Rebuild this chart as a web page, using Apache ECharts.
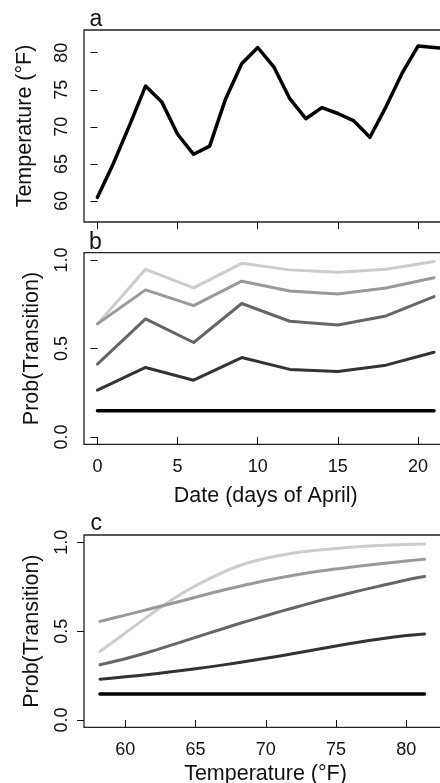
<!DOCTYPE html>
<html>
<head>
<meta charset="utf-8">
<script src="https://cdn.jsdelivr.net/npm/echarts@6/dist/echarts.min.js"></script>
<style>
  html, body { margin: 0; padding: 0; background: #fff; overflow: hidden; }
  #chart { width: 440px; height: 783px; }
</style>
</head>
<body>
<div id="chart"></div>
<script>
// 面板 a：每日气温
const tempDays = [0, 1, 2, 3, 4, 5, 6, 7, 8, 9, 10, 11, 12, 13, 14, 15, 16, 17, 18, 19, 20, 21, 22];
const tempF = [60.5, 65.1, 70.2, 75.5, 73.4, 69.0, 66.3, 67.4, 73.8, 78.5, 80.7, 78.1, 73.8, 71.1, 72.6, 71.8, 70.8, 68.6, 72.7, 77.2, 80.9, 80.7, 80.5];

// 面板 b：按日期的转移概率
const probDays = [0, 3, 6, 9, 12, 15, 18, 21];
const dayProb1 = [0.639, 0.947, 0.842, 0.981, 0.944, 0.930, 0.947, 0.991];
const dayProb2 = [0.639, 0.831, 0.742, 0.880, 0.825, 0.808, 0.842, 0.900];
const dayProb3 = [0.412, 0.667, 0.534, 0.754, 0.654, 0.633, 0.684, 0.793];
const dayProb4 = [0.265, 0.393, 0.321, 0.449, 0.382, 0.370, 0.406, 0.479];
const dayProb5 = [0.148, 0.148, 0.148, 0.148, 0.148, 0.148, 0.148, 0.148];

// 面板 c：按温度的转移概率
const tempGrid = [58.2, 60, 62, 64, 66, 68, 70, 72, 74, 76, 78, 80, 81.3];
const tProb1 = [0.386, 0.490, 0.605, 0.710, 0.795, 0.865, 0.910, 0.940, 0.958, 0.972, 0.982, 0.987, 0.990];
const tProb2 = [0.555, 0.590, 0.630, 0.670, 0.712, 0.750, 0.785, 0.815, 0.840, 0.860, 0.878, 0.895, 0.905];
const tProb3 = [0.311, 0.345, 0.390, 0.440, 0.490, 0.540, 0.587, 0.632, 0.675, 0.715, 0.752, 0.788, 0.807];
const tProb4 = [0.230, 0.243, 0.259, 0.278, 0.299, 0.322, 0.347, 0.374, 0.402, 0.430, 0.455, 0.475, 0.484];
const tProb5 = [0.146, 0.146, 0.146, 0.146, 0.146, 0.146, 0.146, 0.146, 0.146, 0.146, 0.146, 0.146, 0.146];

// 刻度
const dayTicks = [0, 5, 10, 15, 20];
const tempTicks = [60, 65, 70, 75, 80];
const probTicks = [0, 0.5, 1];

const greys = ['#cccccc', '#999999', '#666666', '#333333', '#000000'];
const FONT = '"Liberation Sans", Arial, sans-serif';
const INK = '#111';

const pair = (xs, ys) => xs.map((x, i) => [x, ys[i]]);

function xAxisOf(idx, min, max, ticks, showLabels, name, gap) {
	return {
		type: 'value',
		gridIndex: idx,
		min: min,
		max: max,
		axisLine: { show: false },
		splitLine: { show: false },
		axisTick: { show: true, length: 7, customValues: ticks, lineStyle: { color: INK, width: 1 } },
		axisLabel: {
			show: showLabels,
			customValues: ticks,
			margin: 14,
			fontSize: 18,
			fontFamily: FONT,
			color: INK,
		},
		name: name,
		nameLocation: 'middle',
		nameGap: gap,
		nameTextStyle: { fontSize: 21.5, fontFamily: FONT, color: INK },
	};
}

function yAxisOf(idx, min, max, ticks, fmt, name, gap) {
	return {
		type: 'value',
		gridIndex: idx,
		min: min,
		max: max,
		axisLine: { show: false },
		splitLine: { show: false },
		axisTick: { show: true, length: 7, customValues: ticks, lineStyle: { color: INK, width: 1 } },
		axisLabel: {
			customValues: ticks,
			rotate: 90,
			margin: 13,
			fontSize: 18,
			fontFamily: FONT,
			color: INK,
			formatter: fmt,
		},
		name: name,
		nameLocation: 'middle',
		nameGap: gap,
		nameRotate: 90,
		nameTextStyle: { fontSize: 21.5, fontFamily: FONT, color: INK },
	};
}

function lineOf(xi, data, color, width) {
	return {
		type: 'line',
		xAxisIndex: xi,
		yAxisIndex: xi,
		data: data,
		symbol: 'none',
		clip: true,
		lineStyle: { color: color, width: width, cap: 'round', join: 'round' },
	};
}

// 平滑曲线（面板 c）
function curveOf(data, color) {
	return Object.assign(lineOf(2, data, color, 3), { smooth: 0.25 });
}

// 边框超出画布右侧（原图被裁切）
const gridBox = { show: true, borderColor: '#222', borderWidth: 1.3, backgroundColor: 'transparent', outerBoundsMode: 'none', containLabel: false };

const chart = echarts.init(document.getElementById('chart'), null, { renderer: 'canvas' });

const option = {
	animation: false,
	backgroundColor: '#fff',
	grid: [
		Object.assign({ left: 84, width: 363.5, top: 30, height: 192 }, gridBox),
		Object.assign({ left: 84, width: 363.5, top: 252.7, height: 191.6 }, gridBox),
		Object.assign({ left: 84, width: 363, top: 535, height: 192.3 }, gridBox),
	],
	xAxis: [
		xAxisOf(0, -0.84, 21.84, dayTicks, false, '', 0),
		xAxisOf(1, -0.84, 21.84, dayTicks, true, 'Date (days of April)', 41),
		xAxisOf(2, 57.06, 82.9, tempTicks, true, 'Temperature (°F)', 36),
	],
	yAxis: [
		yAxisOf(0, 57.17, 83.06, tempTicks, (v) => String(v), 'Temperature (°F)', 48),
		yAxisOf(1, -0.041, 1.041, probTicks, (v) => v.toFixed(1), 'Prob(Transition)', 41),
		yAxisOf(2, -0.041, 1.041, probTicks, (v) => v.toFixed(1), 'Prob(Transition)', 41),
	],
	series: [
		lineOf(0, pair(tempDays, tempF), '#000', 3.5),

		lineOf(1, pair(probDays, dayProb1), greys[0], 3),
		lineOf(1, pair(probDays, dayProb2), greys[1], 3),
		lineOf(1, pair(probDays, dayProb3), greys[2], 3),
		lineOf(1, pair(probDays, dayProb4), greys[3], 3),
		lineOf(1, pair(probDays, dayProb5), greys[4], 3.5),

		curveOf(pair(tempGrid, tProb1), greys[0]),
		curveOf(pair(tempGrid, tProb2), greys[1]),
		curveOf(pair(tempGrid, tProb3), greys[2]),
		curveOf(pair(tempGrid, tProb4), greys[3]),
		lineOf(2, pair(tempGrid, tProb5), greys[4], 3.5),
	],
	graphic: [
		{ type: 'text', style: { x: 89.5, y: 19.5, text: 'a', font: '23px ' + FONT, fill: INK, verticalAlign: 'middle' } },
		{ type: 'text', style: { x: 89, y: 242.5, text: 'b', font: '23px ' + FONT, fill: INK, verticalAlign: 'middle' } },
		{ type: 'text', style: { x: 90.5, y: 524, text: 'c', font: '23px ' + FONT, fill: INK, verticalAlign: 'middle' } },
	],
};

chart.setOption(option);
</script>
</body>
</html>
